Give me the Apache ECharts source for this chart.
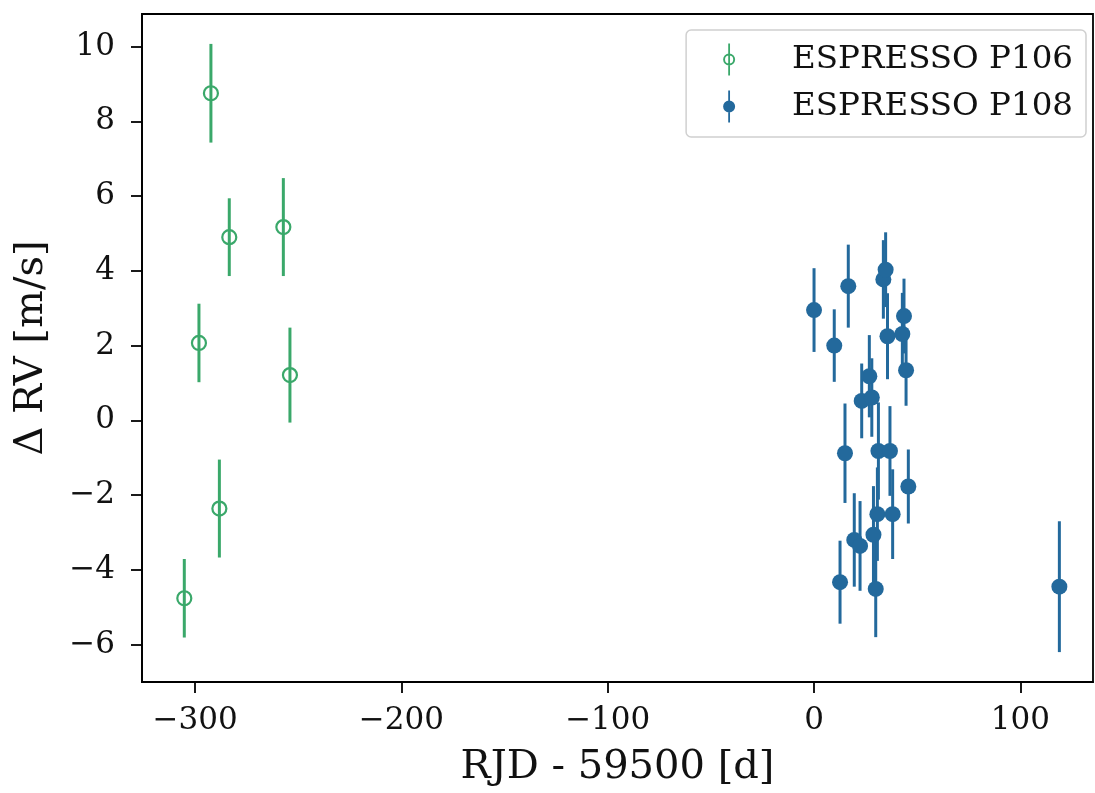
<!DOCTYPE html>
<html><head><meta charset="utf-8">
<script src="https://cdn.jsdelivr.net/npm/echarts@6/dist/echarts.min.js"></script>
<style>html,body{margin:0;padding:0;background:#fff}#c{width:1095px;height:793px}</style>
</head><body><div id="c"></div>
<script>
// ESPRESSO P106: x (RJD-59500), dRV, err
const p106X = [-305.2, -298.1, -292.3, -288.2, -283.4, -257.2, -254.0];
const p106Y = [-4.76, 2.07, 8.75, -2.36, 4.90, 5.17, 1.21];
const p106E = [1.05, 1.05, 1.32, 1.31, 1.04, 1.31, 1.27];
// ESPRESSO P108
const p108X = [0.0, 9.8, 12.6, 15.0, 16.6, 19.5, 22.3, 23.1, 26.8, 28.0, 28.8, 29.9, 30.7, 31.2, 33.6, 34.7, 35.6, 36.8, 38.1, 42.8, 43.6, 44.6, 45.7, 118.9];
const p108Y = [2.95, 2.00, -4.33, -0.88, 3.59, -3.20, -3.36, 0.52, 1.18, 0.61, -3.06, -4.51, -2.51, -0.82, 3.77, 4.03, 2.25, -0.82, -2.51, 2.31, 2.79, 1.34, -1.77, -4.45];
const p108E = [1.12, 0.97, 1.11, 1.33, 1.11, 1.25, 1.20, 1.00, 1.10, 1.05, 1.30, 1.29, 1.25, 1.30, 1.05, 1.00, 1.15, 1.20, 1.20, 1.10, 1.00, 0.95, 0.99, 1.75];
const xTicks = [-300, -200, -100, 0, 100];
const yTicks = [-6, -4, -2, 0, 2, 4, 6, 8, 10];
const seriesNames = ['ESPRESSO P106', 'ESPRESSO P108'];

const GREEN = '#3aa86a', BLUE = '#23699c';
const FONT = 'DejaVu Serif';
const TXT = '#111';
const pts = (xs, ys, es) => xs.map((x, i) => [x, ys[i], es[i]]);
const d106 = pts(p106X, p106Y, p106E), d108 = pts(p108X, p108Y, p108E);

function errRender(color) {
  return function (params, api) {
    const x = api.value(0), y = api.value(1), e = api.value(2);
    const a = api.coord([x, y - e]), b = api.coord([x, y + e]);
    return { type: 'line', shape: { x1: a[0], y1: a[1], x2: b[0], y2: b[1] },
      style: { stroke: color, lineWidth: 3 } };
  };
}
const minus = v => String(v).replace('-', '\u2212');
const ICON = 'path://M0,16 A6,6 0 1,1 12,16 A6,6 0 1,1 0,16 Z M1.9,16 A4.1,4.1 0 1,0 10.1,16 A4.1,4.1 0 1,0 1.9,16 Z M5.1,0 L6.9,0 L6.9,32 L5.1,32 Z';
const ICON2 = 'path://M0,16 A6,6 0 1,1 12,16 A6,6 0 1,1 0,16 Z M5.1,0 L6.9,0 L6.9,32 L5.1,32 Z';

const chart = echarts.init(document.getElementById('c'), null, { renderer: 'canvas' });
chart.setOption({
  animation: false,
  backgroundColor: '#fff',
  textStyle: { fontFamily: FONT },
  grid: { left: 142, right: 2, top: 14, bottom: 110, show: true, borderColor: '#000', borderWidth: 1.8, backgroundColor: 'transparent' },
  legend: {
    right: 9, top: 30, orient: 'vertical', itemGap: 14, itemWidth: 12, itemHeight: 32,
    padding: [13, 13, 14, 37], symbolKeepAspect: false,
    borderColor: '#d0d0d0', borderWidth: 1.5, borderRadius: 5, backgroundColor: '#fff',
    textStyle: { fontFamily: FONT, fontSize: 32.5, color: TXT, padding: [0, 0, 0, 52] },
    data: [
      { name: seriesNames[0], icon: ICON, itemStyle: { color: GREEN, borderWidth: 0 } },
      { name: seriesNames[1], icon: ICON2, itemStyle: { color: BLUE, borderWidth: 0 } }
    ]
  },
  xAxis: {
    type: 'value', min: -325.7, max: 135.2,
    name: 'RJD - 59500 [d]', nameLocation: 'middle', nameGap: 66,
    nameTextStyle: { fontFamily: FONT, fontSize: 40, color: TXT },
    axisLine: { show: true, onZero: false, lineStyle: { color: '#000', width: 1.8 } },
    axisTick: { show: true, length: 11, lineStyle: { color: '#000', width: 1.8 }, customValues: xTicks },
    axisLabel: { fontFamily: FONT, fontSize: 31, color: TXT, margin: 23, formatter: minus, customValues: xTicks },
    splitLine: { show: false }
  },
  yAxis: {
    type: 'value', min: -7, max: 10.87,
    name: '\u0394 RV [m/s]', nameLocation: 'middle', nameGap: 90, nameRotate: 90,
    nameTextStyle: { fontFamily: FONT, fontSize: 40, color: TXT },
    axisLine: { show: true, onZero: false, lineStyle: { color: '#000', width: 1.8 } },
    axisTick: { show: true, length: 11, lineStyle: { color: '#000', width: 1.8 }, customValues: yTicks },
    axisLabel: { fontFamily: FONT, fontSize: 31, color: TXT, margin: 27, formatter: minus, customValues: yTicks },
    splitLine: { show: false }
  },
  series: [
    { type: 'custom', name: seriesNames[0], renderItem: errRender(GREEN), data: d106, encode: { x: 0, y: 1 }, z: 2, legendHoverLink: false },
    { type: 'custom', name: seriesNames[1], renderItem: errRender(BLUE), data: d108, encode: { x: 0, y: 1 }, z: 2, legendHoverLink: false },
    { type: 'scatter', name: seriesNames[0], data: d106, symbol: 'circle', symbolSize: 14, z: 3,
      itemStyle: { color: 'rgba(255,255,255,0)', borderColor: GREEN, borderWidth: 2.2, opacity: 1 } },
    { type: 'scatter', name: seriesNames[1], data: d108, symbol: 'circle', symbolSize: 16, z: 3,
      itemStyle: { color: BLUE, opacity: 1 } }
  ]
});
</script></body></html>
